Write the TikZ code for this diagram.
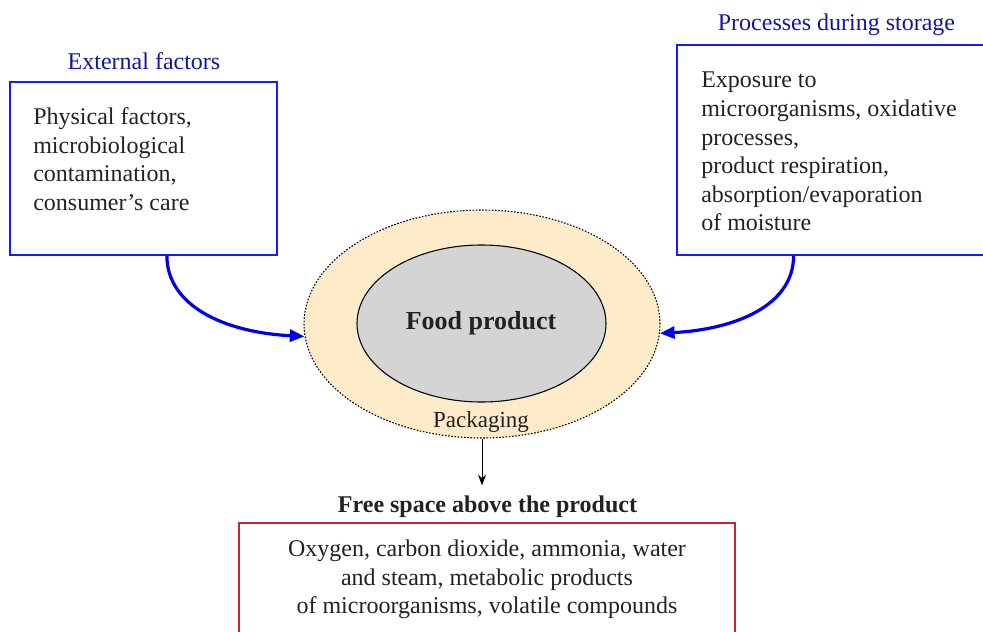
\documentclass[tikz,border=0pt]{standalone}
\usepackage{fontspec}
\setmainfont{Liberation Serif}
\usepackage{tikz}
\usetikzlibrary{arrows.meta,shapes.geometric}

\definecolor{titleblue}{RGB}{20,20,160}
\definecolor{boxblue}{RGB}{25,25,255}
\definecolor{arrowblue}{RGB}{0,0,230}
\definecolor{boxred}{RGB}{192,40,45}
\definecolor{packbeige}{RGB}{253,235,201}
\definecolor{foodgray}{RGB}{212,212,212}
\definecolor{inkgray}{RGB}{34,34,34}

\begin{document}
\begin{tikzpicture}[x=0.75pt, y=-0.75pt,
    title/.style={text=titleblue, font=\fontsize{18}{21.4}\selectfont, inner sep=0pt},
    boxtext/.style={text=inkgray, font=\fontsize{18}{21.4}\selectfont, inner sep=0pt},
    bluebox/.style={draw=boxblue, line width=1.2pt, inner sep=0pt},
    flow/.style={arrowblue, line width=2.4pt, -{Triangle[length=11pt,width=9pt]}}]
            \useasboundingbox (0,0) rectangle (983,632);
            \clip (0,0) rectangle (983,632);

            % Titles
            \node[title, anchor=base] (exttitle) at (144,69) {External factors};
            \node[title, anchor=base] (proctitle) at (836.5,30) {Processes during storage};

            % Boxes
            \node[bluebox, minimum width=200.25pt, minimum height=129.75pt] (extbox) at (143.5,168.5) {};
            \node[bluebox, minimum width=242.25pt, minimum height=157.5pt] (procbox) at (838.5,150) {};
            \node[draw=boxred, line width=1pt, inner sep=0pt, minimum width=372pt, minimum height=102.75pt] (gasbox) at (487,591.5) {};

            \node[boxtext, anchor=north west, align=left] (exttext) at (33,107.6)
                {Physical factors,\\ microbiological\\ contamination,\\ consumer’s care};
            \node[boxtext, anchor=north west, align=left] (proctext) at (701,72)
                {Exposure to\\ microorganisms, oxidative\\ processes,\\ product respiration,\\ absorption/evaporation\\ of moisture};
            \node[boxtext, anchor=north, align=center] (gastext) at (487,539.6)
                {Oxygen, carbon dioxide, ammonia, water\\ and steam, metabolic products\\ of microorganisms, volatile compounds};

            % Packaging and product
            \node[ellipse, draw, line width=0.8pt, dash pattern=on 1.2pt off 1.2pt, fill=packbeige, inner sep=0pt,
                  minimum width=267pt, minimum height=171pt] (pack) at (482,324) {};
            \node[ellipse, draw, line width=0.8pt, fill=foodgray, inner sep=0pt,
                  minimum width=186.75pt, minimum height=117.75pt] (food) at (481.5,323.5) {};
            \node[text=inkgray, font=\fontsize{19.5}{23}\selectfont\bfseries, anchor=base] (foodlabel) at (481,329) {Food product};
            \node[text=inkgray, font=\fontsize{17.25}{20}\selectfont, anchor=base] (packlabel) at (481,427) {Packaging};
            \node[text=inkgray, font=\fontsize{18}{21.4}\selectfont\bfseries, anchor=base] (freetitle) at (487.5,512) {Free space above the product};

            % Arrows
            \draw[flow] (extbox.-75) .. controls +(0,50) and +(-80,-4) .. (pack.184);
            \draw[flow] (procbox.-113.4) .. controls +(0,50) and +(75,-4) .. (pack.-3);
            \draw[-{Stealth[length=8pt,width=6pt]}, thin] (pack.south) -- ([yshift=4pt]pack.south |- freetitle.north);

        \end{tikzpicture}
\end{document}
